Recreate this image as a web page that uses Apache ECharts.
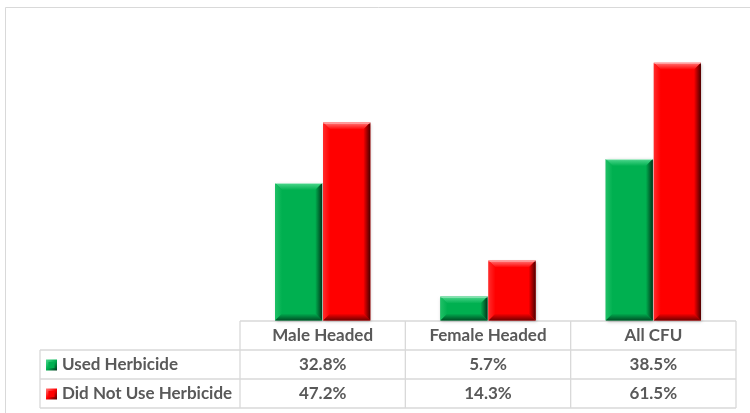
<!DOCTYPE html>
<html>
<head>
<meta charset="utf-8">
<script src="https://cdn.jsdelivr.net/npm/echarts@6/dist/echarts.min.js"></script>
<style>
  html, body { margin: 0; padding: 0; background: #fff; }
  #chart { width: 750px; height: 413px; }
</style>
</head>
<body>
<div id="chart"></div>
<script>
// Herbicide use by household head type (share of CFU households)
const categories = ['Male Headed', 'Female Headed', 'All CFU'];
const seriesNames = ['Used Herbicide', 'Did Not Use Herbicide'];
const usedHerbicide = [32.8, 5.7, 38.5];
const notUsedHerbicide = [47.2, 14.3, 61.5];

const FONT = 'Lato';
const TEXT_COLOR = '#595959';
const LINE_COLOR = '#D9D9D9';

// main, light (top bevel), dark (right/bottom bevel)
const palettes = [
  { main: '#00B050', light: '#4fd88e', side: '#1fc066', dark: '#00361a' },
  { main: '#FF0000', light: '#ff7a7a', side: '#ff2a2a', dark: '#4a0000' }
];

const gridLeft = 240, gridRight = 14, gridTop = 27, gridBottom = 92.5;

function bevelBar(seriesIdx) {
  const pal = palettes[seriesIdx];
  return function (params, api) {
    const idx = api.value(0);
    const val = api.value(1);
    const base = api.coord([idx, 0]);
    const top = api.coord([idx, val]);
    const band = api.size([1, 0])[0];
    const w = band * 0.285;
    const gap = 1;
    const x = seriesIdx === 0 ? base[0] - gap / 2 - w : base[0] + gap / 2;
    const y = top[1];
    const h = base[1] - top[1];
    const b = Math.min(7, h / 2, w / 2);
    const lg = (x1, y1, x2, y2, c1, c2) => ({
      type: 'linear', x: x1, y: y1, x2: x2, y2: y2,
      colorStops: [{ offset: 0, color: c1 }, { offset: 1, color: c2 }]
    });
    return {
      type: 'group',
      children: [
        { type: 'rect', shape: { x: x, y: y, width: w, height: h },
          style: { fill: pal.main, shadowBlur: 3, shadowColor: 'rgba(0,0,0,0.25)', shadowOffsetX: 1, shadowOffsetY: 1 } },
        { type: 'polygon', shape: { points: [[x, y], [x + w, y], [x + w - b, y + b], [x + b, y + b]] },
          style: { fill: lg(0, 0, 0, 1, pal.light, pal.main) } },
        { type: 'polygon', shape: { points: [[x, y], [x + b, y + b], [x + b, y + h - b], [x, y + h]] },
          style: { fill: lg(0, 0, 1, 0, pal.side, pal.main) } },
        { type: 'polygon', shape: { points: [[x + w, y], [x + w, y + h], [x + w - b, y + h - b], [x + w - b, y + b]] },
          style: { fill: lg(0, 0, 1, 0, pal.main, pal.dark) } },
        { type: 'polygon', shape: { points: [[x, y + h], [x + w, y + h], [x + w - b, y + h - b], [x + b, y + h - b]] },
          style: { fill: lg(0, 0, 0, 1, pal.main, pal.dark), opacity: 0.8 } },
        { type: 'line', shape: { x1: x, y1: y + 0.5, x2: x + w, y2: y + 0.5 },
          style: { stroke: 'rgba(255,255,255,0.55)', lineWidth: 1 } }
      ]
    };
  };
}

const chart = echarts.init(document.getElementById('chart'), null, { renderer: 'canvas' });

chart.setOption({
  animation: false,
  backgroundColor: '#fff',
  grid: { left: gridLeft, right: gridRight, top: gridTop, bottom: gridBottom },
  xAxis: {
    type: 'category', data: categories,
    axisLine: { show: false }, axisTick: { show: false }, axisLabel: { show: false }
  },
  yAxis: {
    type: 'value', min: 0, max: 70,
    axisLine: { show: false }, axisTick: { show: false }, axisLabel: { show: false },
    splitLine: { show: false }
  },
  series: [
    { name: seriesNames[0], type: 'custom', renderItem: bevelBar(0),
      encode: { x: 0, y: 1 }, data: usedHerbicide.map((v, i) => [i, v]) },
    { name: seriesNames[1], type: 'custom', renderItem: bevelBar(1),
      encode: { x: 0, y: 1 }, data: notUsedHerbicide.map((v, i) => [i, v]) }
  ]
});

// Data table under the plot
const tableTop = 321, rowH = 29;
const tableRight = 750 - gridRight;
const keyLeft = 40;
const rows = [usedHerbicide, notUsedHerbicide];
const colEdges = [gridLeft];
const colCenters = categories.map((c, i) => chart.convertToPixel({ xAxisIndex: 0 }, i));
const band = (tableRight - gridLeft) / categories.length;
for (let i = 1; i <= categories.length; i++) colEdges.push(gridLeft + band * i);

const g = [];
const ln = (x1, y1, x2, y2) => ({
  type: 'line', silent: true,
  shape: { x1: x1, y1: y1, x2: x2, y2: y2 },
  style: { stroke: LINE_COLOR, lineWidth: 1.3 }
});
const txt = (x, y, s, align) => ({
  type: 'text', x: x, y: y, silent: true,
  style: { text: s, fill: TEXT_COLOR, font: 'bold 17px ' + FONT,
           align: align || 'center', verticalAlign: 'middle' }
});

// outer chart border
g.push({ type: 'rect', silent: true, shape: { x: 5.5, y: 7.5, width: 800, height: 500 },
         style: { fill: 'none', stroke: LINE_COLOR, lineWidth: 1 } });

// horizontal rules
g.push(ln(gridLeft, tableTop, tableRight, tableTop));
for (let r = 1; r <= 3; r++) g.push(ln(keyLeft, tableTop + rowH * r, tableRight, tableTop + rowH * r));
// vertical rules
g.push(ln(keyLeft, tableTop + rowH, keyLeft, tableTop + rowH * 3));
colEdges.forEach(x => g.push(ln(x, tableTop, x, tableTop + rowH * 3)));

// header
categories.forEach((c, i) => g.push(txt(colCenters[i], tableTop + rowH / 2 + 0.5, c)));

// rows
rows.forEach((vals, r) => {
  const cy = tableTop + rowH * (r + 1) + rowH / 2 + 0.5;
  const pal = palettes[r];
  g.push({ type: 'rect', silent: true, shape: { x: 46, y: cy - 5.5, width: 11, height: 11 },
           style: { fill: { type: 'linear', x: 0, y: 0, x2: 1, y2: 1,
             colorStops: [{ offset: 0, color: pal.light }, { offset: 0.5, color: pal.main }, { offset: 1, color: pal.dark }] } } });
  g.push({ type: 'rect', silent: true, shape: { x: 48.5, y: cy - 3, width: 6, height: 6 },
           style: { fill: pal.main } });
  g.push(txt(62, cy, seriesNames[r], 'left'));
  vals.forEach((v, i) => g.push(txt(colCenters[i], cy, v.toFixed(1) + '%')));
});

chart.setOption({ graphic: { elements: g } });
</script>
</body>
</html>
